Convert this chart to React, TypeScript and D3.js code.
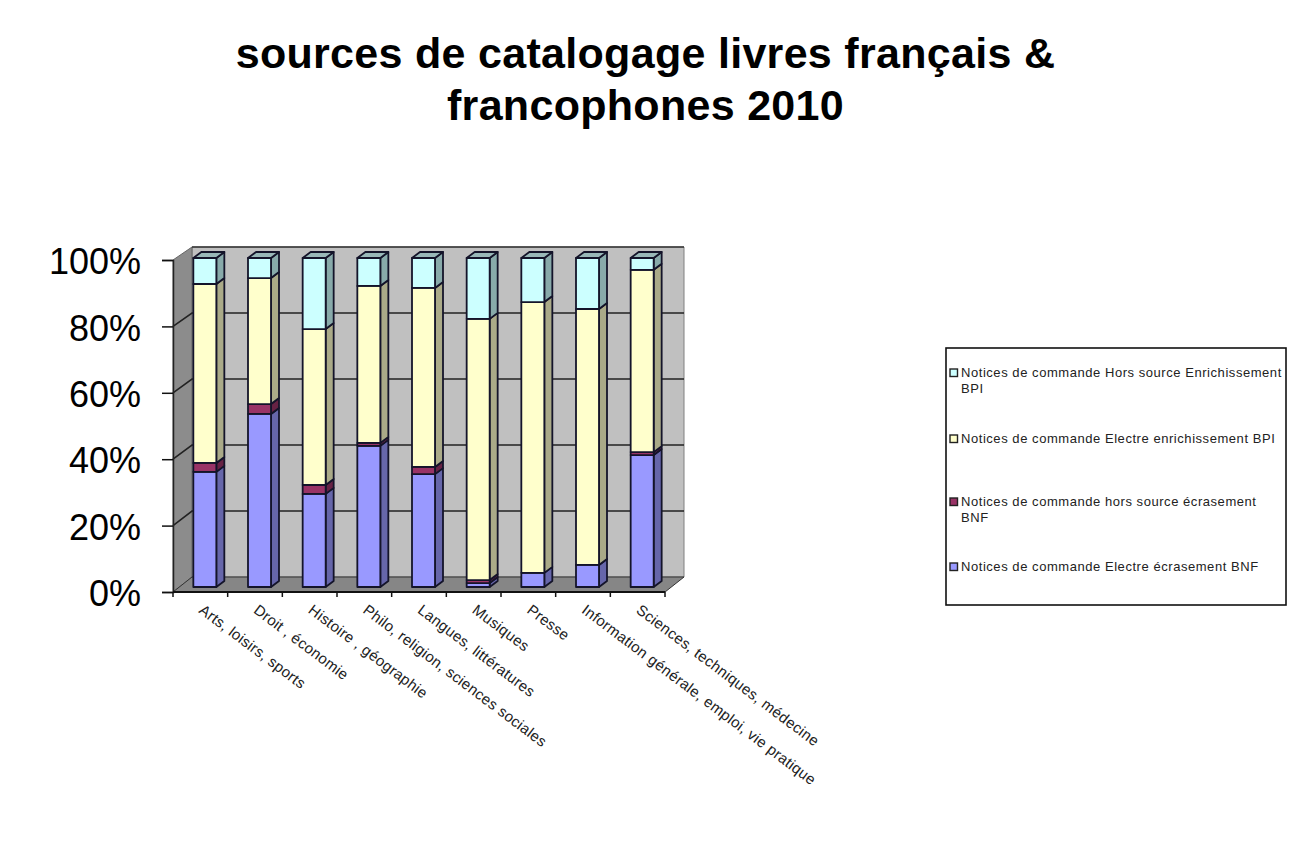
import { useEffect, useRef } from "react";
import * as d3 from "d3";

const categories = [
  "Arts, loisirs, sports",
  "Droit , économie",
  "Histoire , géographie",
  "Philo, religion, sciences sociales",
  "Langues, littératures",
  "Musiques",
  "Presse",
  "Information générale, emploi, vie pratique",
  "Sciences, techniques, médecine",
];
const electreEcrasement = [35, 52.6, 28.3, 42.9, 34.3, 1.2, 4.3, 6.7, 40.1];
const horsSourceEcrasement = [2.7, 3, 2.7, 0.9, 2.2, 0.9, 0, 0, 0.9];
const electreEnrichissement = [54.4, 38.3, 47.4, 47.7, 54.4, 79.4, 82.3, 77.8, 55.4];
const horsSourceEnrichissement = [7.9, 6.1, 21.6, 8.5, 9.1, 18.5, 13.4, 15.5, 3.6];
const seriesKeys = ["electreEcrasement", "horsSourceEcrasement", "electreEnrichissement", "horsSourceEnrichissement"];
const seriesFill = ["#9999ff", "#993366", "#ffffcc", "#ccffff"];
const seriesSide = ["#6666aa", "#662244", "#aaaa88", "#88aaaa"];
const yTicks = [0, 20, 40, 60, 80, 100];
const titleLines = ["sources de catalogage livres français &", "francophones 2010"];
const legendEntries = [
  { lines: ["Notices de commande Hors source Enrichissement", "BPI"], y: 377, swatch: "#ccffff" },
  { lines: ["Notices de commande Electre enrichissement BPI"], y: 443, swatch: "#ffffcc" },
  { lines: ["Notices de commande hors source écrasement", "BNF"], y: 506, swatch: "#993366" },
  { lines: ["Notices de commande Electre écrasement BNF"], y: 571, swatch: "#9999ff" },
];

const font = "'Liberation Sans', Arial, sans-serif";

export default function App() {
  const ref = useRef<SVGSVGElement>(null);
  useEffect(() => {
    const svg = d3.select(ref.current);
    svg.selectAll("*").remove();

    const x = d3.scaleBand<string>().domain(categories).range([173, 665]);
    const y = d3.scaleLinear().domain([0, 100]).range([592, 260]);
    const yBack = d3.scaleLinear().domain([0, 100]).range([577, 247]);
    const yBar = d3.scaleLinear().domain([0, 100]).range([587, 258]);
    const backDx = 19;
    const barW = 23;
    const barDx = 8;
    const barDy = 6;
    const line = "#14142a";
    const poly = (pts: number[][]) => d3.line()(pts as [number, number][]) + "Z";

    svg
      .append("g")
      .selectAll("text")
      .data(titleLines)
      .join("text")
      .attr("x", 645.5)
      .attr("y", (_, i) => 68 + i * 52)
      .attr("text-anchor", "middle")
      .attr("font-family", font)
      .attr("font-weight", "bold")
      .attr("font-size", 43)
      .attr("letter-spacing", 0.3)
      .attr("fill", "#000")
      .text((d) => d);

    // walls
    const [x0, x1] = x.range();
    svg
      .append("path")
      .attr("d", poly([[x0 + backDx, yBack(100)], [x1 + backDx, yBack(100)], [x1 + backDx, yBack(0)], [x0 + backDx, yBack(0)]]))
      .attr("fill", "#c0c0c0")
      .attr("stroke", "#808080");
    svg
      .append("path")
      .attr("d", poly([[x0, y(100)], [x0 + backDx, yBack(100)], [x0 + backDx, yBack(0)], [x0, y(0)]]))
      .attr("fill", "#8c8c8c")
      .attr("stroke", "#666");
    svg
      .append("path")
      .attr("d", poly([[x0, y(0)], [x0 + backDx, yBack(0)], [x1 + backDx, yBack(0)], [x1, y(0)]]))
      .attr("fill", "#868686")
      .attr("stroke", "#333");
    svg
      .append("line")
      .attr("x1", x0 + backDx)
      .attr("x2", x1 + backDx)
      .attr("y1", yBack(100))
      .attr("y2", yBack(100))
      .attr("stroke", "#333")
      .attr("stroke-width", 1.5);

    // gridlines
    const grid = svg.append("g").attr("stroke", "#222").attr("stroke-width", 1.6).attr("fill", "none");
    yTicks.slice(1, -1).forEach((v) => {
      grid.append("path").attr("d", d3.line()([[x0, y(v)], [x0 + backDx, yBack(v)], [x1 + backDx, yBack(v)]]));
    });

    // stacked bars
    const rows = categories.map((c, i) => ({
      category: c,
      electreEcrasement: electreEcrasement[i],
      horsSourceEcrasement: horsSourceEcrasement[i],
      electreEnrichissement: electreEnrichissement[i],
      horsSourceEnrichissement: horsSourceEnrichissement[i],
    }));
    const stacked = d3.stack<any>().keys(seriesKeys)(rows);
    const bars = svg.append("g").attr("stroke", line).attr("stroke-width", 1.8).attr("stroke-linejoin", "round");
    rows.forEach((row, i) => {
      const left = x(row.category)! + x.bandwidth() / 2 - barW / 2 + 4.5;
      const right = left + barW;
      stacked.forEach((s, k) => {
        const [a, b] = s[i];
        if (b - a <= 0) return;
        bars
          .append("path")
          .attr("d", poly([[right, yBar(a)], [right + barDx, yBar(a) - barDy], [right + barDx, yBar(b) - barDy], [right, yBar(b)]]))
          .attr("fill", seriesSide[k]);
        bars
          .append("rect")
          .attr("x", left)
          .attr("y", yBar(b))
          .attr("width", barW)
          .attr("height", yBar(a) - yBar(b))
          .attr("fill", seriesFill[k]);
      });
      bars
        .append("path")
        .attr("d", poly([[left, yBar(100)], [left + barDx, yBar(100) - barDy], [right + barDx, yBar(100) - barDy], [right, yBar(100)]]))
        .attr("fill", "#99b8b8");
    });

    // axes
    const yAxis = svg
      .append("g")
      .attr("transform", `translate(${x0},0)`)
      .call(d3.axisLeft(y).tickValues(yTicks).tickSize(11).tickPadding(21).tickFormat((d) => d + "%"));
    yAxis.select(".domain").attr("stroke", "#222").attr("stroke-width", 1.5);
    yAxis.selectAll("line").attr("stroke", "#111").attr("stroke-width", 1.5);
    yAxis.selectAll("text").attr("font-family", font).attr("font-size", 36).attr("fill", "#000").attr("dy", "0.38em");

    const xAxis = svg.append("g");
    xAxis
      .append("line")
      .attr("x1", x0)
      .attr("x2", x1)
      .attr("y1", y(0))
      .attr("y2", y(0))
      .attr("stroke", "#111")
      .attr("stroke-width", 1.8);
    [...categories.map((c) => x(c)!), x1].forEach((tx) => {
      xAxis.append("line").attr("x1", tx).attr("x2", tx).attr("y1", y(0)).attr("y2", y(0) + 5).attr("stroke", "#111").attr("stroke-width", 1.5);
    });
    categories.forEach((c) => {
      const tx = x(c)! + 25;
      xAxis
        .append("text")
        .attr("transform", `translate(${tx},${y(0) + 20}) rotate(37)`)
        .attr("font-family", font)
        .attr("font-size", 15)
        .attr("letter-spacing", 0.3)
        .attr("fill", "#222")
        .text(c);
    });

    // legend
    const legend = svg.append("g");
    legend
      .append("rect")
      .attr("x", 946)
      .attr("y", 348)
      .attr("width", 340)
      .attr("height", 257)
      .attr("fill", "#fff")
      .attr("stroke", "#111")
      .attr("stroke-width", 1.6);
    legendEntries.forEach((e) => {
      legend
        .append("rect")
        .attr("x", 950)
        .attr("y", e.y - 8)
        .attr("width", 7.5)
        .attr("height", 7.5)
        .attr("fill", e.swatch)
        .attr("stroke", "#222")
        .attr("stroke-width", 1.4);
      e.lines.forEach((t, i) => {
        legend
          .append("text")
          .attr("x", 961)
          .attr("y", e.y + i * 16)
          .attr("font-family", font)
          .attr("font-size", 13)
          .attr("letter-spacing", 0.55)
          .attr("fill", "#222")
          .text(t);
      });
    });
  }, []);

  return <svg ref={ref} width={1297} height={841} style={{ position: "absolute", left: 0, top: 0 }} />;
}
